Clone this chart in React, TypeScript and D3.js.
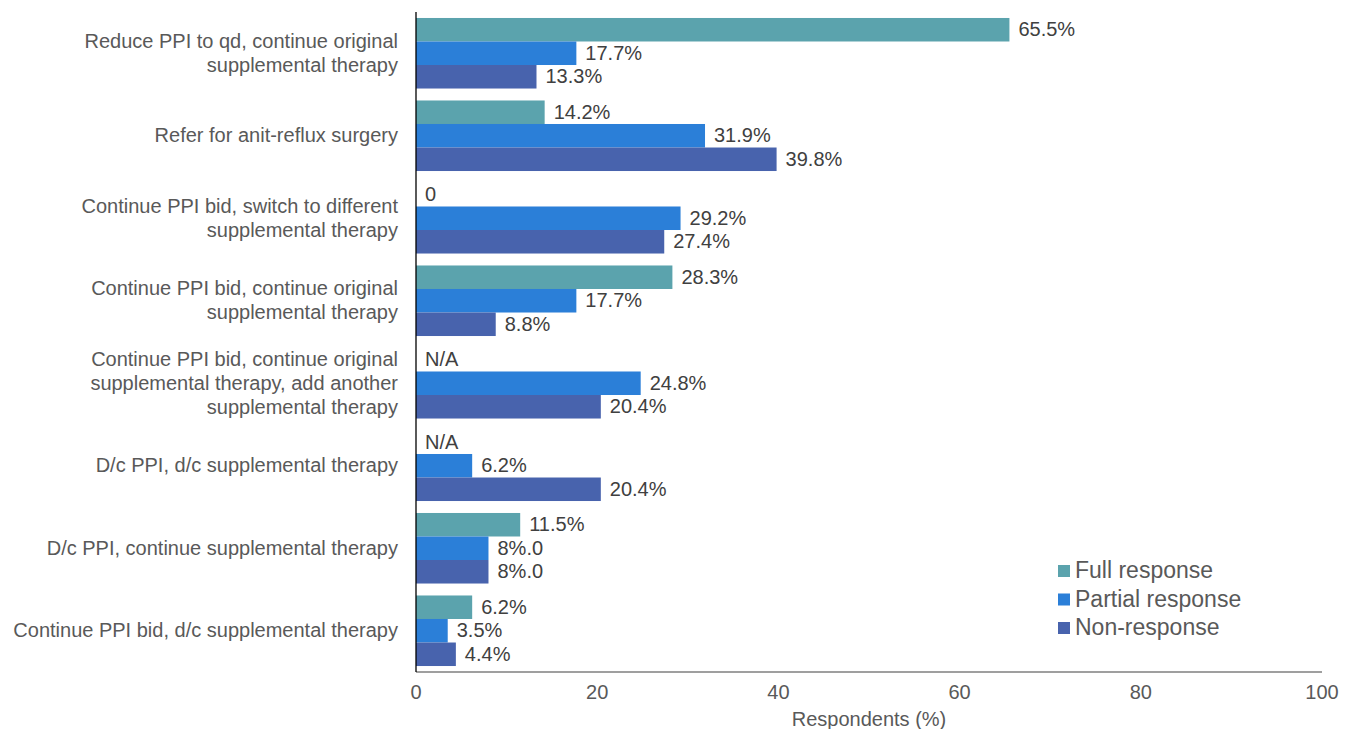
import { useEffect, useRef } from 'react'
import * as d3 from 'd3'

const W = 1352, H = 729, M = { top: 12, right: 30, bottom: 57, left: 416 }

const categories = [
  ['Reduce PPI to qd, continue original', 'supplemental therapy'],
  ['Refer for anit-reflux surgery'],
  ['Continue PPI bid, switch to different', 'supplemental therapy'],
  ['Continue PPI bid, continue original', 'supplemental therapy'],
  ['Continue PPI bid, continue original', 'supplemental therapy, add another', 'supplemental therapy'],
  ['D/c PPI, d/c supplemental therapy'],
  ['D/c PPI, continue supplemental therapy'],
  ['Continue PPI bid, d/c supplemental therapy'],
]

const seriesNames = ['Full response', 'Partial response', 'Non-response']
const colors = ['#5ba3ad', '#2b7fd8', '#4863ad']

const fullValues = [65.5, 14.2, 0, 28.3, 0, 0, 11.5, 6.2]
const partialValues = [17.7, 31.9, 29.2, 17.7, 24.8, 6.2, 8.0, 3.5]
const nonValues = [13.3, 39.8, 27.4, 8.8, 20.4, 20.4, 8.0, 4.4]

const fullLabels = ['65.5%', '14.2%', '0', '28.3%', 'N/A', 'N/A', '11.5%', '6.2%']
const partialLabels = ['17.7%', '31.9%', '29.2%', '17.7%', '24.8%', '6.2%', '8%.0', '3.5%']
const nonLabels = ['13.3%', '39.8%', '27.4%', '8.8%', '20.4%', '20.4%', '8%.0', '4.4%']

const xTicks = [0, 20, 40, 60, 80, 100]

const FONT = '"Liberation Sans", Arial, sans-serif'

export default function App() {
  const svgRef = useRef<SVGSVGElement>(null)

  useEffect(() => {
    document.body.style.margin = '0'
    const svg = d3.select(svgRef.current!)
    svg.selectAll('*').remove()

    const iw = W - M.left - M.right
    const ih = H - M.top - M.bottom

    const x = d3.scaleLinear().domain([0, 100]).range([0, iw])
    const y0 = d3.scaleBand<number>().domain(d3.range(categories.length)).range([0, ih]).paddingInner(0.145).paddingOuter(0.0725)
    const y1 = d3.scaleBand<number>().domain([0, 1, 2]).range([0, y0.bandwidth()])

    const g = svg.append('g').attr('transform', `translate(${M.left},${M.top})`)

    const values = [fullValues, partialValues, nonValues]
    const labels = [fullLabels, partialLabels, nonLabels]

    categories.forEach((_, ci) => {
      const gg = g.append('g').attr('transform', `translate(0,${y0(ci)})`)
      values.forEach((vals, si) => {
        const v = vals[ci]
        if (v > 0) {
          gg.append('rect')
            .attr('x', 0).attr('y', y1(si)!)
            .attr('width', x(v)).attr('height', y1.bandwidth())
            .attr('fill', colors[si])
        }
        gg.append('text')
          .attr('x', x(v) + 9)
          .attr('y', y1(si)! + y1.bandwidth() / 2 + 1)
          .attr('dominant-baseline', 'middle')
          .attr('font-size', 20).attr('font-family', FONT)
          .attr('fill', '#404040')
          .text(labels[si][ci])
      })
    })

    // Category labels
    categories.forEach((lines, ci) => {
      const cy = y0(ci)! + y0.bandwidth() / 2
      const lh = 24
      lines.forEach((line, li) => {
        g.append('text')
          .attr('x', -18)
          .attr('y', cy + (li - (lines.length - 1) / 2) * lh + 1)
          .attr('text-anchor', 'end').attr('dominant-baseline', 'middle')
          .attr('font-size', 20).attr('font-family', FONT)
          .attr('fill', '#595959')
          .text(line)
      })
    })

    // X axis
    g.append('line')
      .attr('x1', 0).attr('x2', iw).attr('y1', ih).attr('y2', ih)
      .attr('stroke', '#7f7f7f').attr('stroke-width', 1.3)
    xTicks.forEach(t => {
      g.append('text')
        .attr('x', x(t)).attr('y', ih + 27)
        .attr('text-anchor', 'middle')
        .attr('font-size', 20).attr('font-family', FONT)
        .attr('fill', '#595959')
        .text(t)
    })
    g.append('text')
      .attr('x', iw / 2).attr('y', ih + 54)
      .attr('text-anchor', 'middle')
      .attr('font-size', 20).attr('font-family', FONT)
      .attr('fill', '#595959')
      .text('Respondents (%)')

    // Y axis
    g.append('line')
      .attr('x1', 0).attr('x2', 0).attr('y1', 0).attr('y2', ih)
      .attr('stroke', '#000').attr('stroke-width', 1.3)

    // Legend
    const lg = svg.append('g').attr('transform', `translate(1058,571)`)
    seriesNames.forEach((name, i) => {
      const ly = i * 28.5
      lg.append('rect').attr('x', 0).attr('y', ly - 6).attr('width', 12).attr('height', 12)
        .attr('fill', colors[i])
      lg.append('text').attr('x', 17).attr('y', ly + 1).attr('dominant-baseline', 'middle')
        .attr('font-size', 23).attr('font-family', FONT)
        .attr('fill', '#595959').text(name)
    })
  }, [])

  return <svg ref={svgRef} width={W} height={H} style={{ display: 'block' }} viewBox={`0 0 ${W} ${H}`} />
}
